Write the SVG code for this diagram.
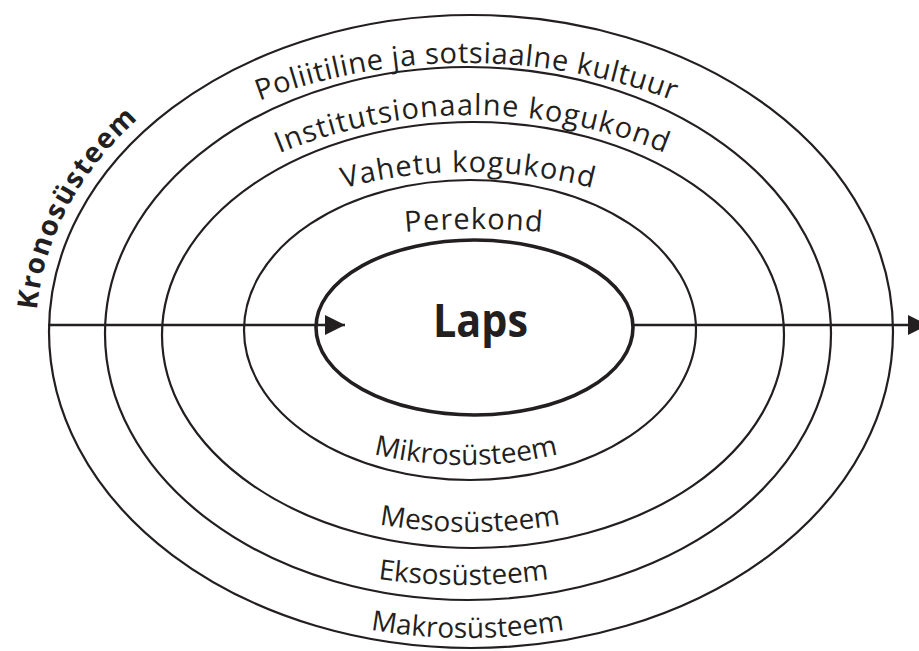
<svg xmlns="http://www.w3.org/2000/svg" width="919" height="651" viewBox="0 0 919 651">
  <style>
    .ring { fill: none; stroke: #231f20; stroke-width: 2.2; }
    .core { fill: none; stroke: #231f20; stroke-width: 3.6; }
    .lbl { font-family: "Open Sans", "Noto Sans", "Liberation Sans", sans-serif; font-size: 29px; fill: #231f20; letter-spacing: 0.6px; }
    .lblb { font-family: "Open Sans", "Noto Sans", "Liberation Sans", sans-serif; font-size: 28px; fill: #231f20; }
    .bold { font-family: "Open Sans", "Noto Sans", "Liberation Sans", sans-serif; font-weight: 700; fill: #231f20; }
    .conn { stroke: #231f20; stroke-width: 2.4; fill: none; }
  </style>
  <defs>
    <marker id="arrow" viewBox="0 0 20 20" refX="20" refY="10" markerWidth="20" markerHeight="20" markerUnits="userSpaceOnUse" orient="auto">
      <path d="M0,0 L20,10 L0,20 z" fill="#231f20"/>
    </marker>
    <path id="pKrono" d="M37,310 A434,330 0 0 1 471,1.5"/>
    <path id="p1" d="M172,141.9 A589,589 0 0 1 761,141.9"/>
    <path id="p2" d="M219.5,182.8 A506,506 0 0 1 725.5,182.8"/>
    <path id="p3" d="M262.7,217.6 A487,487 0 0 1 674.3,217.6"/>
    <path id="p4" d="M340,240.7 A772,772 0 0 1 608,240.7"/>
    <path id="b1" d="M299.5,428.1 A394,394 0 0 0 632.5,428.1"/>
    <path id="b2" d="M287.7,499.9 A533,533 0 0 0 652.3,499.9"/>
    <path id="b3" d="M303.3,563.9 A619,619 0 0 0 623.7,563.9"/>
    <path id="b4" d="M292,610.2 A568,568 0 0 0 643,610.2"/>
  </defs>
  <rect width="919" height="651" fill="#ffffff"/>

  <g id="kronosysteem">
    <text class="bold" font-size="28" letter-spacing="1.6"><textPath href="#pKrono" startOffset="0">Kronosüsteem</textPath></text>
  </g>

  <g id="makrosysteem">
    <ellipse class="ring" cx="471" cy="331.5" rx="422" ry="316.5"/>
    <text class="lbl"><textPath href="#p1" startOffset="50%" text-anchor="middle">Poliitiline ja sotsiaalne kultuur</textPath></text>
    <text class="lblb"><textPath href="#b4" startOffset="50%" text-anchor="middle">Makrosüsteem</textPath></text>
  </g>

  <g id="eksosysteem">
    <ellipse class="ring" cx="468" cy="333.5" rx="363" ry="266.5"/>
    <text class="lbl" style="letter-spacing:1.1px"><textPath href="#p2" startOffset="50%" text-anchor="middle">Institutsionaalne kogukond</textPath></text>
    <text class="lblb"><textPath href="#b3" startOffset="50%" text-anchor="middle">Eksosüsteem</textPath></text>
  </g>

  <g id="mesosysteem">
    <ellipse class="ring" cx="473" cy="335" rx="311" ry="213"/>
    <text class="lbl" style="letter-spacing:1px"><textPath href="#p3" startOffset="50%" text-anchor="middle">Vahetu kogukond</textPath></text>
    <text class="lblb"><textPath href="#b2" startOffset="50%" text-anchor="middle">Mesosüsteem</textPath></text>
  </g>

  <g id="mikrosysteem">
    <ellipse class="ring" cx="470" cy="330" rx="226" ry="150"/>
    <text class="lbl" style="letter-spacing:1px"><textPath href="#p4" startOffset="50%" text-anchor="middle">Perekond</textPath></text>
    <text class="lblb"><textPath href="#b1" startOffset="50%" text-anchor="middle">Mikrosüsteem</textPath></text>
  </g>

  <g id="connectors">
    <line class="conn" x1="48" y1="325" x2="345" y2="325" marker-end="url(#arrow)"/>
    <line class="conn" x1="633" y1="325" x2="928" y2="325" marker-end="url(#arrow)"/>
  </g>

  <g id="laps">
    <ellipse class="core" cx="474.5" cy="327.5" rx="158.5" ry="87.5"/>
    <text class="bold" x="480.5" y="337" font-size="47" text-anchor="middle" textLength="95" lengthAdjust="spacingAndGlyphs">Laps</text>
  </g>
</svg>
